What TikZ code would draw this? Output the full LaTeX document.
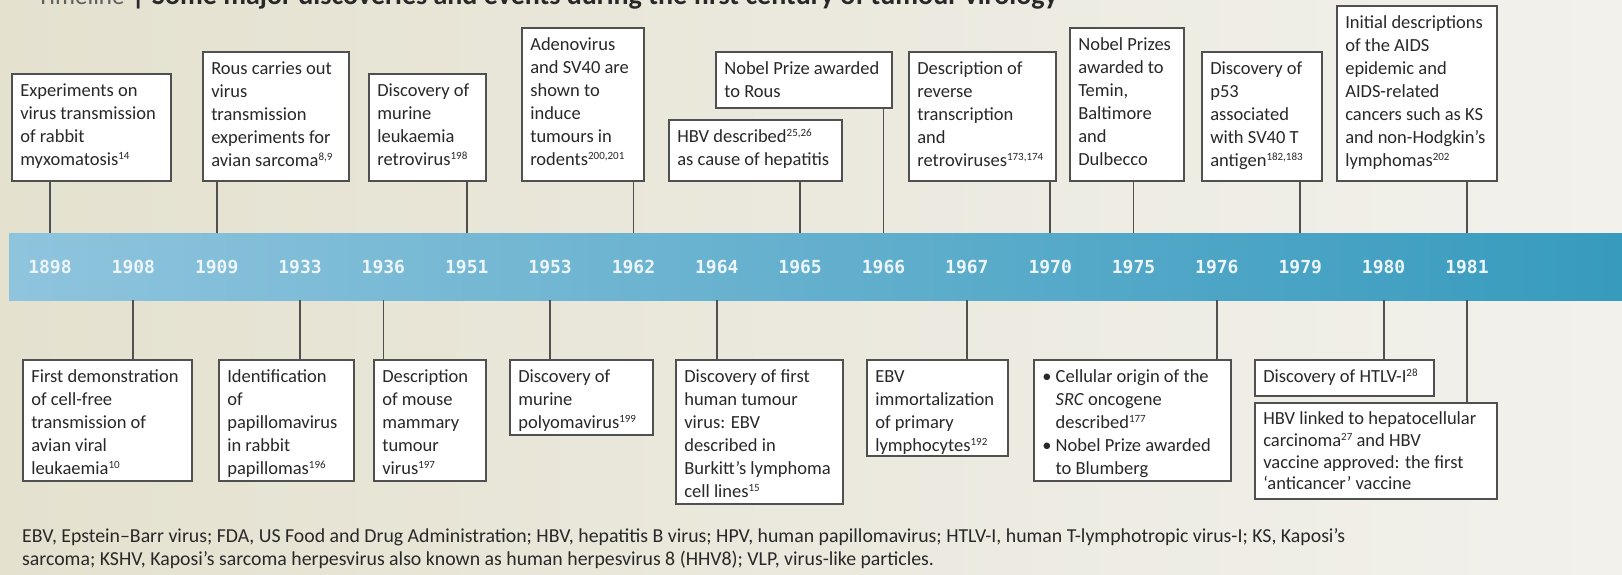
\documentclass[tikz,border=0pt]{standalone}
\usepackage{fontspec}
\setmainfont{Carlito}
\newfontfamily\yearfont{DejaVu Sans Mono}
\usetikzlibrary{fit}

\definecolor{bgL}{RGB}{228,225,207}
\definecolor{bgR}{RGB}{242,241,236}
\definecolor{barL}{RGB}{143,196,221}
\definecolor{barR}{RGB}{55,155,190}
\definecolor{yeartxt}{RGB}{236,245,249}
\definecolor{rule}{RGB}{80,80,80}
\definecolor{ink}{RGB}{40,40,40}
\definecolor{lightink}{RGB}{95,95,95}

% small raised reference numbers
\newcommand\refmark[1]{\raisebox{0.62ex}{\fontsize{11}{11}\selectfont #1}}

% event box: [extra text style], name, x1, y1, x2, y2, text
\newcommand\evbox[7][]{%
  \node[evframe, fit={(#3,#4) (#5,#6)}] (#2) {};
  \node[evtext,#1] (#2t) at ([xshift=9pt,yshift=-6.9pt]#2.north west) {\strut#7};
}

\begin{document}
\begin{tikzpicture}[x=1pt,y=-1pt,
  evframe/.style={draw=rule, line width=1.8pt, fill=white, inner sep=0pt},
  evtext/.style={anchor=north west, inner sep=0pt, align=left, text=ink,
                 font=\fontsize{18.5}{23}\selectfont},
  tighttext/.style={font=\fontsize{18.5}{21.8}\selectfont},
  conn/.style={draw=rule, line width=1.8pt},
  yearlbl/.style={anchor=base, inner sep=0pt, text=yeartxt,
                  font=\yearfont\bfseries\fontsize{18}{20}\selectfont},
  note/.style={anchor=north west, align=left, inner sep=0pt, text=ink,
               font=\fontsize{19.8}{23}\selectfont}]

\useasboundingbox (0,0) rectangle (1622,575);
\clip (0,0) rectangle (1622,575);
\shade[left color=bgL, right color=bgR] (0,0) rectangle (1622,575);

% heading
\node[anchor=base west, inner sep=0pt, font=\fontsize{25}{30}\selectfont] (title) at (37,5)
  {\textcolor{lightink}{Timeline}\hspace{7pt}\textcolor{ink}{\fontsize{28}{30}\selectfont\textbf{|\hspace{7pt}Some major discoveries and events during the first century of tumour virology}}};

% time bar with the years
\node[inner sep=0pt, minimum width=1613pt, minimum height=67pt, anchor=north west,
      left color=barL, right color=barR] (bar) at (9,233) {};
\foreach \yr [count=\i from 0] in {1898,1908,1909,1933,1936,1951,1953,1962,1964,1965,1966,1967,1970,1975,1976,1979,1980,1981}
  \node[yearlbl] (y\yr) at ({50+83.35*\i},273) {\yr};

% events above the bar
\evbox{e1}{12}{74}{171}{181}{Experiments on\\virus transmission\\of rabbit\\myxomatosis\refmark{14}}
\evbox{e2}{203}{52}{349}{181}{Rous carries out\\virus\\transmission\\experiments for\\avian sarcoma\refmark{8,9}}
\evbox{e3}{369}{74}{486}{181}{Discovery of\\murine\\leukaemia\\retrovirus\refmark{198}}
\evbox{e4}{522}{28}{644}{181}{Adenovirus\\and SV40 are\\shown to\\induce\\tumours in\\rodents\refmark{200,201}}
\evbox{e5}{669}{120}{842}{181}{HBV described\refmark{25,26}\\as cause of hepatitis}
\evbox{e6}{716}{52}{892}{108}{Nobel Prize awarded\\to Rous}
\evbox{e7}{909}{52}{1056}{181}{Description of\\reverse\\transcription\\and\\retroviruses\refmark{173,174}}
\evbox{e8}{1070}{28}{1184}{181}{Nobel Prizes\\awarded to\\Temin,\\Baltimore\\and\\Dulbecco}
\evbox{e9}{1202}{52}{1322}{181}{Discovery of\\p53\\associated\\with SV40 T\\antigen\refmark{182,183}}
\evbox{e10}{1337}{6}{1497}{181}{Initial descriptions\\of the AIDS\\epidemic and\\AIDS-related\\cancers such as KS\\and non-Hodgkin's\\lymphomas\refmark{202}}

% events below the bar
\evbox{b1}{23}{360}{192}{481}{First demonstration\\of cell-free\\transmission of\\avian viral\\leukaemia\refmark{10}}
\evbox{b2}{219}{360}{354}{481}{Identification\\of\\papillomavirus\\in rabbit\\papillomas\refmark{196}}
\evbox{b3}{374}{360}{486}{481}{Description\\of mouse\\mammary\\tumour\\virus\refmark{197}}
\evbox{b4}{510}{360}{653}{435}{Discovery of\\murine\\polyomavirus\refmark{199}}
\evbox{b5}{676}{360}{843}{504}{Discovery of first\\human tumour\\virus: EBV\\described in\\Burkitt's lymphoma\\cell lines\refmark{15}}
\evbox{b6}{867}{360}{1008}{456}{EBV\\immortalization\\of primary\\lymphocytes\refmark{192}}
\evbox{b7}{1034}{360}{1231}{481}{\textbullet\ Cellular origin of the\\\phantom{\textbullet\ }\textit{SRC} oncogene\\\phantom{\textbullet\ }described\refmark{177}\\\textbullet\ Nobel Prize awarded\\\phantom{\textbullet\ }to Blumberg}
\evbox{b8}{1255}{360}{1434}{396}{Discovery of HTLV-I\refmark{28}}
\evbox[tighttext]{b9}{1255}{403}{1497}{499}{HBV linked to hepatocellular\\carcinoma\refmark{27} and HBV\\vaccine approved: the first\\`anticancer' vaccine}

% connectors from the boxes to the bar
\foreach \b/\yr in {e1/1898,e2/1909,e3/1951,e4/1962,e5/1965,e6/1966,e7/1970,e8/1975,e9/1979,e10/1981}
  \draw[conn] (\b.south -| y\yr) -- (y\yr |- bar.north);
\foreach \b/\yr in {b1/1908,b2/1933,b3/1936,b4/1953,b5/1964,b6/1967,b7/1976,b8/1980,b9/1981}
  \draw[conn] (y\yr |- bar.south) -- (\b.north -| y\yr);

% abbreviations
\node[note] (notes) at (22,526) {\strut EBV, Epstein--Barr virus; FDA, US Food and Drug Administration; HBV, hepatitis B virus; HPV, human papillomavirus; HTLV-I, human T-lymphotropic virus-I; KS, Kaposi's\\sarcoma; KSHV, Kaposi's sarcoma herpesvirus also known as human herpesvirus 8 (HHV8); VLP, virus-like particles.};
\end{tikzpicture}
\end{document}
